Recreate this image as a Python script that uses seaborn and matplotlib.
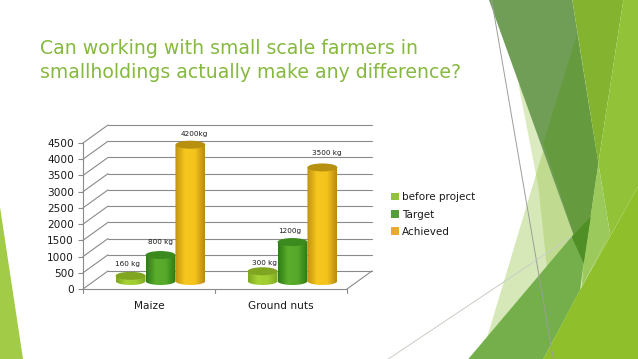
import numpy as np
import pandas as pd
import matplotlib
matplotlib.use("Agg")
import matplotlib.pyplot as plt
from matplotlib.colors import LinearSegmentedColormap
from matplotlib.patches import Ellipse, Polygon
import seaborn as sns

# ---- data ----
crops = ["Maize", "Ground nuts"]
series = ["before project", "Target", "Achieved"]
before_project = [160, 300]
target = [800, 1200]
achieved = [4200, 3500]
bar_labels = ["160 kg", "300 kg", "800 kg", "1200g", "4200kg", "3500 kg"]
yticks = list(range(0, 4501, 500))
title_text = "Can working with small scale farmers in\nsmallholdings actually make any difference?"

# ---- styles ----
W, H = 638, 359
legend_colors = ["#92C13A", "#549E39", "#E8A92C"]
body_ramps = [["#7DA821", "#A6D236", "#A0CC32", "#7FAA22"],
              ["#2F7D16", "#5AAE2C", "#55A82A", "#2E7A14"],
              ["#C0920F", "#F7C71F", "#F4C41D", "#B98A10"]]
cap_colors = ["#7FA521", "#3A8A1E", "#B8900F"]
label_offsets = [(-3, 12), (1.5, 8), (0, 13), (-2.5, 11), (3.5, 11), (4, 14)]
grid_col = "#8A8A8A"
text_col = "#1A1A1A"

df = pd.DataFrame({
    "crop": crops * 3,
    "series": [s for s in series for _ in crops],
    "kg": before_project + target + achieved,
})

sns.set_theme(style="white")
plt.rcParams["font.family"] = ["DejaVu Sans"]
fig = plt.figure(figsize=(W / 100, H / 100), dpi=100, facecolor="white")


def axes_px(left, top, right, bottom, **kw):
    return fig.add_axes([left / W, 1 - bottom / H, (right - left) / W, (bottom - top) / H], **kw)


# ---- slide decoration ----
bg = axes_px(0, 0, W, H)
bg.set_xlim(0, W)
bg.set_ylim(H, 0)
bg.axis("off")


def z(pts):
    return [(380 + x / 3, y / 3) for x, y in pts]


shapes = [
    ([(0, 207), (23, 359), (0, 359)], "#A2CB47", 1),
    (z([(415, 250), (690, 700), (605, 860), (575, 1077), (530, 1077), (475, 560)]), "#92C13A", .32),
    (z([(490, 450), (610, 790), (600, 870), (490, 1077), (300, 1077), (325, 1000)]), "#92C13A", .36),
    (z([(327, 0), (577, 0), (655, 490), (611, 790)]), "#709E57", 1),
    (z([(590, 105), (655, 490), (611, 790), (490, 430)]), "#669A3E", 1),
    (z([(577, 0), (730, 0), (655, 490)]), "#84B32F", 1),
    (z([(730, 0), (774, 0), (774, 560), (605, 860), (690, 700), (655, 490)]), "#92C237", 1),
    (z([(655, 490), (690, 700), (605, 860), (611, 790)]), "#9CC95C", 1),
    (z([(265, 1077), (575, 710), (632, 650), (611, 790), (600, 870), (490, 1077)]), "#74AF4C", 1),
    (z([(575, 710), (632, 650), (611, 790)]), "#4F8F25", 1),
    (z([(490, 1077), (600, 870), (774, 560), (774, 1077)]), "#8FBF2B", 1),
]
for pts, col, a in shapes:
    bg.add_patch(Polygon(pts, closed=True, fc=col, ec="none", alpha=a))
bg.plot(*zip(*z([(335, 0), (520, 1077)])), color="#9A9F96", lw=.7)
bg.plot(*zip(*z([(25, 1077), (575, 710)])), color="#C9CEC4", lw=.7)

bg.text(40, 60.5, title_text, color="#86B93F", fontsize=13.6, ha="left", va="center",
        linespacing=1.3)

# ---- front frame: value axis, category axis, floor and back wall ----
ax = axes_px(83, 143, 347, 289)
ax.patch.set_alpha(0)
ax.set_xlim(-0.5, 1.5)
ax.set_ylim(0, 4500)
ax.set_yticks(yticks)
ax.set_xticks([0, 1], crops)
for s in ["top", "right"]:
    ax.spines[s].set_visible(False)
for s in ["left", "bottom"]:
    ax.spines[s].set_color(grid_col)
    ax.spines[s].set_linewidth(.8)
ax.tick_params(axis="y", length=3.6, width=.8, color=grid_col, labelsize=7.6, labelcolor=text_col, pad=3, left=True)
ax.tick_params(axis="x", length=0, labelsize=7.6, labelcolor=text_col, pad=8.5)
dx = 25 / 132
dy = 18 * 4500 / 146
for v in yticks:
    ax.plot([-0.5, -0.5 + dx], [v, v + dy], color=grid_col, lw=.8, clip_on=False)
    ax.plot([-0.5 + dx, 1.5 + dx], [v + dy, v + dy], color=grid_col, lw=.8, clip_on=False)
ax.plot([1.5, 1.5 + dx], [0, dy], color=grid_col, lw=.8, clip_on=False)
for t in [-0.5, 0.5, 1.5]:
    ax.plot([t, t], [0, -4 * 4500 / 146], color=grid_col, lw=.8, clip_on=False)

# ---- cylinders, on a plane set back from the front ----
bax = axes_px(94.5, 135, 358.5, 281)
bax.patch.set_alpha(0)
sns.barplot(data=df, x="crop", y="kg", hue="series", order=crops, hue_order=series,
            palette=legend_colors, width=.68, gap=0, legend=False, ax=bax)
bax.set_xlim(-0.5, 1.5)
bax.set_ylim(0, 4500)
bax.axis("off")

cap_h = 8 * 4500 / 146
grad = np.linspace(0, 1, 64).reshape(1, -1)
for i, bar in enumerate(bax.patches):
    col_i = i // 2
    x0, w, top = bar.get_x(), bar.get_width(), bar.get_height()
    bar.set_visible(False)
    cmap = LinearSegmentedColormap.from_list("c", body_ramps[col_i])
    ang = np.linspace(np.pi, 2 * np.pi, 40)
    cx = x0 + w / 2
    outline = [(x0, top)] + list(zip(cx + w / 2 * np.cos(ang), cap_h / 2 * np.sin(ang))) + [(x0 + w, top)]
    clip = Polygon(outline, closed=True, transform=bax.transData, fc="none", ec="none", clip_on=False)
    bax.add_patch(clip)
    im = bax.imshow(grad, extent=(x0, x0 + w, -cap_h, top), aspect="auto", cmap=cmap, zorder=3 + col_i)
    im.set_clip_box(fig.bbox)
    im.set_clip_path(clip)
    bax.add_patch(Ellipse((cx, top), w, cap_h, fc=cap_colors[col_i], ec="none",
                          zorder=3 + col_i, clip_on=False))
    bax.annotate(bar_labels[i], (cx, top), xytext=label_offsets[i], textcoords="offset pixels",
                 ha="center", va="center", fontsize=5.2, color=text_col, zorder=10, annotation_clip=False)
bax.set_xlim(-0.5, 1.5)
bax.set_ylim(0, 4500)

# ---- legend ----
handles = [plt.Rectangle((0, 0), 1, 1, fc=c, ec="none") for c in legend_colors]
fig.legend(handles, series, loc="center left", bbox_to_anchor=(391 / W, 1 - 214.5 / H), frameon=False,
           fontsize=7.5, handlelength=.72, handleheight=.72, handletextpad=.3, labelspacing=.68,
           borderpad=0, borderaxespad=0, labelcolor=text_col)

fig.savefig("out.png", dpi=100, facecolor="white")
